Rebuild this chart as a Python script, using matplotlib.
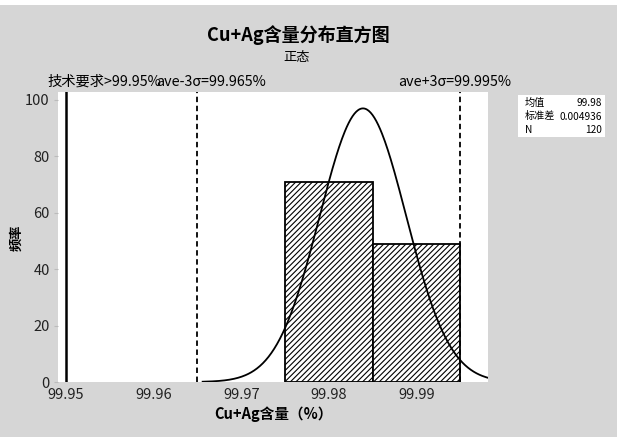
import numpy as np
import matplotlib
matplotlib.use("Agg")
import matplotlib.pyplot as plt
from matplotlib.patches import Rectangle

plt.rcParams["font.family"] = ["Noto Sans CJK SC", "DejaVu Sans"]
plt.rcParams["hatch.linewidth"] = 0.8

# histogram data
bin_edges = [99.975, 99.985, 99.995]
counts = [71, 49]

# fitted normal
mean = 99.9839
sd = 0.004936
n_obs = 120
curve_start = 99.9656

# reference lines
spec_x = 99.95
lsl_x = 99.965
usl_x = 99.995

x_ticks = [99.95, 99.96, 99.97, 99.98, 99.99]
y_ticks = [0, 20, 40, 60, 80, 100]

W, H = 620, 437
gray = "#d6d6d6"

fig = plt.figure(figsize=(W / 100, H / 100), dpi=100)
fig.patch.set_facecolor("white")
fig.patches.append(Rectangle((0, 0), 617 / W, 1 - 5 / H, transform=fig.transFigure,
                             facecolor=gray, edgecolor="none", zorder=-10))

ax = fig.add_axes([58 / W, 1 - 382 / H, 430 / W, 290 / H])
ax.set_facecolor("white")
for s in ax.spines.values():
    s.set_visible(False)

xmin, xmax = 99.94909, 99.99817
ax.set_xlim(xmin, xmax)
ax.set_ylim(0, 102.8)

widths = np.diff(bin_edges)
ax.bar(bin_edges[:-1], counts, width=widths, align="edge", facecolor="white",
       edgecolor="black", linewidth=1.3, hatch="//////", zorder=2)

xs = np.linspace(curve_start, xmax, 300)
binw = widths[0]
ys = n_obs * binw / (sd * np.sqrt(2 * np.pi)) * np.exp(-0.5 * ((xs - mean) / sd) ** 2)
ax.plot(xs, ys, color="black", linewidth=1.3, zorder=3)

ax.axvline(spec_x, color="black", linewidth=1.8, zorder=4)
ax.axvline(lsl_x, color="black", linewidth=1.3, linestyle=(0, (3, 2)), zorder=4)
ax.axvline(usl_x, color="black", linewidth=1.3, linestyle=(0, (3, 2)), zorder=4)

ax.set_xticks(x_ticks)
ax.set_xticklabels(["%.2f" % v for v in x_ticks])
ax.set_yticks(y_ticks)
ax.tick_params(axis="x", length=0, pad=4, labelsize=10.5, colors="#222222")
ax.tick_params(axis="y", length=3, color="#bbbbbb", pad=3, labelsize=10.5, labelcolor="#222222")

ax.set_xlabel("Cu+Ag含量（%）", fontsize=10.5, fontweight="bold", labelpad=3)
fig.text(16 / W, 1 - 238 / H, "频率", ha="center", va="center", rotation=90,
         fontsize=9.5, fontweight="bold")

fig.text(298 / W, 1 - 35 / H, "Cu+Ag含量分布直方图", ha="center", va="center",
         fontsize=13, fontweight="bold")
fig.text(297 / W, 1 - 57 / H, "正态", ha="center", va="center", fontsize=9.5)

fig.text(47 / W, 1 - 82 / H, "技术要求>%.2f%%" % spec_x, ha="left", va="center", fontsize=10.3)
fig.text(156 / W, 1 - 82 / H, "ave-3σ=%.3f%%" % lsl_x, ha="left", va="center", fontsize=10.3)
fig.text(398 / W, 1 - 82 / H, "ave+3σ=%.3f%%" % usl_x, ha="left", va="center", fontsize=10.3)

# stats box
fig.patches.append(Rectangle((518 / W, 1 - 137 / H), 87 / W, 42 / H, transform=fig.transFigure,
                             facecolor="white", edgecolor="none"))
rows = [("均值", "%.2f" % mean), ("标准差", "%.6f" % sd), ("N", "%d" % n_obs)]
for i, (k, v) in enumerate(rows):
    y = 1 - (103 + 13.5 * i) / H
    fig.text(525 / W, y, k, ha="left", va="center", fontsize=7.3)
    fig.text(602 / W, y, v, ha="right", va="center", fontsize=7.3)

fig.savefig("out.png", dpi=100, facecolor=fig.get_facecolor())
